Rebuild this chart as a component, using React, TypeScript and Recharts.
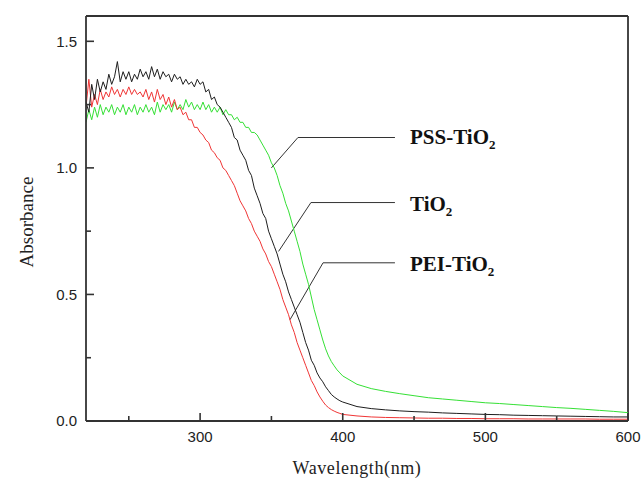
import { LineChart, Line, XAxis, YAxis, ReferenceLine } from 'recharts';

// wavelength grid (nm): 2 nm steps through the edge, 10 nm in the tail
const wavelengths = [
  220, 222, 224, 226, 228, 230, 232, 234, 236, 238, 240, 242, 244, 246, 248, 250, 252, 254, 256, 258,
  260, 262, 264, 266, 268, 270, 272, 274, 276, 278, 280, 282, 284, 286, 288, 290, 292, 294, 296, 298,
  300, 302, 304, 306, 308, 310, 312, 314, 316, 318, 320, 322, 324, 326, 328, 330, 332, 334, 336, 338,
  340, 342, 344, 346, 348, 350, 352, 354, 356, 358, 360, 362, 364, 366, 368, 370, 372, 374, 376, 378,
  380, 382, 384, 386, 388, 390, 392, 394, 396, 398, 400,
  410, 420, 430, 440, 450, 460, 470, 480, 490, 500, 510, 520, 530, 540, 550, 560, 570, 580, 590, 600,
];

const tio2 = [
  1.26, 1.22, 1.33, 1.27, 1.35, 1.30, 1.34, 1.31, 1.37, 1.33, 1.36, 1.42, 1.34, 1.38, 1.35, 1.38, 1.34, 1.37, 1.35, 1.39,
  1.36, 1.38, 1.35, 1.40, 1.36, 1.39, 1.35, 1.38, 1.36, 1.37, 1.34, 1.37, 1.35, 1.36, 1.33, 1.35, 1.33, 1.34, 1.32, 1.35,
  1.33, 1.34, 1.30, 1.31, 1.27, 1.28, 1.25, 1.24, 1.22, 1.20, 1.18, 1.16, 1.12, 1.11, 1.07, 1.05, 1.03, 0.99, 0.97, 0.92,
  0.89, 0.86, 0.82, 0.80, 0.75, 0.72, 0.69, 0.66, 0.62, 0.58, 0.55, 0.51, 0.48, 0.45, 0.42, 0.39, 0.35, 0.31, 0.28, 0.24,
  0.22, 0.19, 0.17, 0.155, 0.135, 0.12, 0.105, 0.095, 0.087, 0.08, 0.075,
  0.057, 0.049, 0.044, 0.04, 0.037, 0.035, 0.032, 0.03, 0.028, 0.026, 0.025, 0.023, 0.022, 0.021, 0.02, 0.019, 0.018, 0.017, 0.016, 0.016,
];

const peiTio2 = [
  1.24, 1.35, 1.24, 1.29, 1.25, 1.31, 1.27, 1.30, 1.28, 1.32, 1.29, 1.31, 1.28, 1.31, 1.29, 1.32, 1.29, 1.31, 1.29, 1.30,
  1.28, 1.31, 1.27, 1.30, 1.26, 1.31, 1.27, 1.29, 1.25, 1.28, 1.24, 1.27, 1.23, 1.24, 1.21, 1.22, 1.19, 1.19, 1.16, 1.16,
  1.14, 1.13, 1.11, 1.10, 1.07, 1.06, 1.04, 1.03, 1.00, 0.99, 0.97, 0.95, 0.93, 0.90, 0.87, 0.85, 0.83, 0.80, 0.78, 0.75,
  0.73, 0.71, 0.68, 0.66, 0.63, 0.61, 0.58, 0.55, 0.52, 0.48, 0.45, 0.42, 0.38, 0.35, 0.31, 0.28, 0.25, 0.22, 0.19, 0.16,
  0.14, 0.115, 0.095, 0.078, 0.063, 0.053, 0.045, 0.039, 0.034, 0.03, 0.026,
  0.02, 0.016, 0.014, 0.013, 0.012, 0.011, 0.011, 0.01, 0.01, 0.009, 0.009, 0.009, 0.008, 0.008, 0.008, 0.008, 0.008, 0.007, 0.007, 0.007,
];

const pssTio2 = [
  1.18, 1.23, 1.19, 1.24, 1.20, 1.25, 1.21, 1.24, 1.22, 1.25, 1.21, 1.24, 1.22, 1.25, 1.21, 1.24, 1.22, 1.25, 1.21, 1.24,
  1.22, 1.25, 1.22, 1.24, 1.21, 1.26, 1.22, 1.25, 1.23, 1.25, 1.22, 1.26, 1.23, 1.25, 1.23, 1.27, 1.24, 1.26, 1.23, 1.25,
  1.23, 1.26, 1.23, 1.25, 1.22, 1.24, 1.22, 1.24, 1.21, 1.23, 1.21, 1.21, 1.19, 1.20, 1.18, 1.18, 1.16, 1.16, 1.14, 1.14,
  1.13, 1.11, 1.09, 1.07, 1.05, 1.02, 1.00, 0.97, 0.93, 0.90, 0.86, 0.83, 0.79, 0.75, 0.71, 0.67, 0.62, 0.58, 0.54, 0.49,
  0.44, 0.40, 0.36, 0.32, 0.285, 0.257, 0.235, 0.218, 0.202, 0.19, 0.178,
  0.145, 0.128, 0.117, 0.108, 0.1, 0.092, 0.087, 0.082, 0.077, 0.072, 0.069, 0.065, 0.061, 0.057, 0.053, 0.05, 0.046, 0.042, 0.038, 0.033,
];

const xTicks = [250, 300, 350, 400, 450, 500, 550, 600];
const yTicks = [0, 0.25, 0.5, 0.75, 1.0, 1.25, 1.5];

const data = wavelengths.map((w, i) => ({ w, tio2: tio2[i], pei: peiTio2[i], pss: pssTio2[i] }));

const AXIS = '#333';
const SERIF = '"Liberation Serif", "Times New Roman", serif';
const tickFont = { fontFamily: '"Liberation Sans", Arial, sans-serif', fontSize: 15, fill: '#222' };

const XTick = ({ x, y, payload }: any) => {
  const major = payload.value % 100 === 0;
  return (
    <g>
      <line x1={x} x2={x} y1={y} y2={y - (major ? 8 : 5)} stroke={AXIS} strokeWidth={1.6} />
      {major && (
        <text x={x} y={y + 16} dy="0.36em" textAnchor="middle" {...tickFont}>
          {payload.value}
        </text>
      )}
    </g>
  );
};

const YTick = ({ x, y, payload }: any) => {
  const major = Math.abs(payload.value * 2 - Math.round(payload.value * 2)) < 1e-6;
  return (
    <g>
      <line x1={x} x2={x + (major ? 8 : 5)} y1={y} y2={y} stroke={AXIS} strokeWidth={1.6} />
      {major && (
        <text x={x - 9} y={y} dy="0.36em" textAnchor="end" {...tickFont}>
          {payload.value.toFixed(1)}
        </text>
      )}
    </g>
  );
};

// leader lines: [elbow, point on curve]
const leaders = [
  { elbow: [368.6, 1.12], tip: [350, 1.0] },
  { elbow: [377.7, 0.863], tip: [355, 0.67] },
  { elbow: [386.2, 0.625], tip: [363, 0.4] },
];
const leaderEnd = 436.6;

const labelStyle = { fontFamily: SERIF, fontWeight: 700, fontSize: 21, fill: '#111' };

export default function App() {
  return (
    <div style={{ position: 'absolute', left: 0, top: 0, width: 642, height: 478, background: '#fff' }}>
      <LineChart width={642} height={478} data={data} margin={{ top: 16, right: 14, left: 0, bottom: 0 }}>
        <XAxis
          dataKey="w"
          type="number"
          domain={[220, 600]}
          ticks={xTicks}
          interval={0}
          height={57}
          tickSize={0}
          tickMargin={0}
          tickLine={false}
          tick={<XTick />}
          axisLine={{ stroke: AXIS, strokeWidth: 1.8 }}
          allowDataOverflow
          label={{
            value: 'Wavelength(nm)',
            position: 'insideBottom',
            offset: 4,
            style: { fontFamily: SERIF, fontSize: 18, fill: '#222', letterSpacing: 0.6 },
          }}
        />
        <YAxis
          type="number"
          domain={[0, 1.6]}
          ticks={yTicks}
          interval={0}
          width={86}
          tickSize={0}
          tickMargin={0}
          tickLine={false}
          tick={<YTick />}
          axisLine={{ stroke: AXIS, strokeWidth: 1.8 }}
          allowDataOverflow
        />
        <ReferenceLine y={1.6} stroke={AXIS} strokeWidth={1.8} />
        <ReferenceLine x={600} stroke={AXIS} strokeWidth={1.8} />
        {leaders.map((l, i) => (
          <ReferenceLine
            key={`lh-${i}`}
            segment={[{ x: l.elbow[0], y: l.elbow[1] }, { x: leaderEnd, y: l.elbow[1] }]}
            stroke="#333"
            strokeWidth={1}
          />
        ))}
        {leaders.map((l, i) => (
          <ReferenceLine
            key={`ld-${i}`}
            segment={[{ x: l.tip[0], y: l.tip[1] }, { x: l.elbow[0], y: l.elbow[1] }]}
            stroke="#333"
            strokeWidth={1}
          />
        ))}
        <Line type="linear" dataKey="pss" stroke="#35e035" strokeWidth={1} dot={false} isAnimationActive={false} />
        <Line type="linear" dataKey="pei" stroke="#f03535" strokeWidth={1} dot={false} isAnimationActive={false} />
        <Line type="linear" dataKey="tio2" stroke="#1e1e1e" strokeWidth={1} dot={false} isAnimationActive={false} />
      </LineChart>
      <svg width={642} height={478} style={{ position: 'absolute', left: 0, top: 0, pointerEvents: 'none' }}>
        <text
          transform="translate(26,222) rotate(-90)"
          textAnchor="middle"
          dy="0.36em"
          fontFamily={SERIF}
          fontSize={19}
          fill="#222"
        >
          Absorbance
        </text>
        <text x={410} y={144} {...labelStyle}>
          PSS-TiO<tspan fontSize={13} dy={5}>2</tspan>
        </text>
        <text x={410} y={211} {...labelStyle}>
          TiO<tspan fontSize={13} dy={5}>2</tspan>
        </text>
        <text x={410} y={271} {...labelStyle}>
          PEI-TiO<tspan fontSize={13} dy={5}>2</tspan>
        </text>
      </svg>
    </div>
  );
}
